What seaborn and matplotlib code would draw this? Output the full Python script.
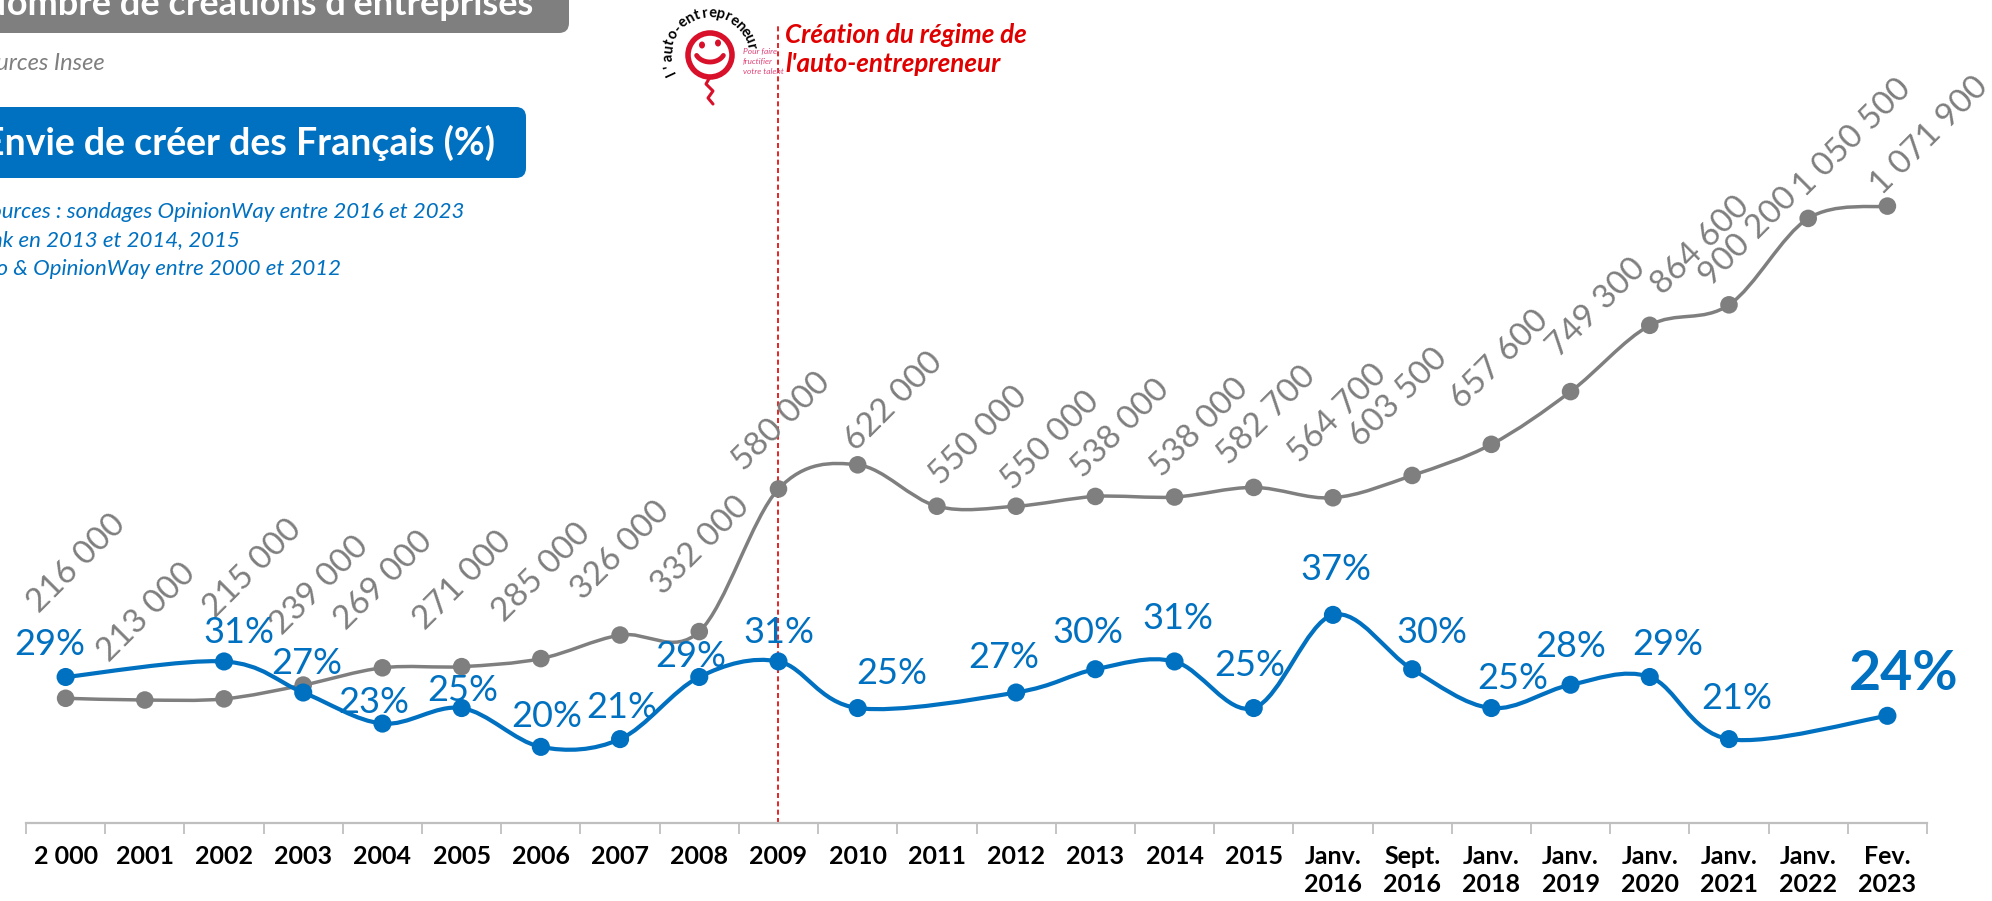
import numpy as np
import pandas as pd
import matplotlib
matplotlib.use("Agg")
import matplotlib.pyplot as plt
from matplotlib.path import Path
from matplotlib.patches import PathPatch, FancyBboxPatch, Circle, Ellipse
import seaborn as sns

# ---- data ----
periods = ["2 000", "2001", "2002", "2003", "2004", "2005", "2006", "2007", "2008",
           "2009", "2010", "2011", "2012", "2013", "2014", "2015",
           "Janv.\n2016", "Sept.\n2016", "Janv.\n2018", "Janv.\n2019", "Janv.\n2020",
           "Janv.\n2021", "Janv.\n2022", "Fev.\n2023"]

# company creations (Insee); 2013/2014 points sit higher than their printed labels
creations = [216000, 213000, 215000, 239000, 269000, 271000, 285000, 326000, 332000,
             580000, 622000, 550000, 550000, 567000, 566000, 582700,
             564700, 603500, 657600, 749300, 864600, 900200, 1050500, 1071900]
creations_labels = ["216 000", "213 000", "215 000", "239 000", "269 000", "271 000",
                    "285 000", "326 000", "332 000", "580 000", "622 000", "550 000",
                    "550 000", "538 000", "538 000", "582 700", "564 700", "603 500",
                    "657 600", "749 300", "864 600", "900 200", "1 050 500", "1 071 900"]

# "envie de créer" (%), no survey for 2001, 2011, Janv. 2022
envie = [29, np.nan, 31, 27, 23, 25, 20, 21, 29, 31, 25, np.nan, 27, 30, 31, 25,
         37, 30, 25, 28, 29, 21, np.nan, 24]

# label offsets in pixels (dx, up)
gray_off = [(11, 135), (2, 87), (29, 130), (16, 99), (1, 87), (1, 86), (1, 86), (1, 84),
            (1, 86), (3, 67), (36, 63), (42, 71), (34, 66), (25, 68), (25, 69), (13, 72),
            (5, 84), (-14, 78), (8, 85), (26, 84), (51, 80), (20, 68), (44, 81), (42, 70)]
blue_off = [(-16, 32), (0, 0), (15, 29), (4, 29), (-9, 21), (1, 18), (6, 30), (2, 32),
            (-9, 20), (0, 29), (34, 35), (0, 0), (-12, 35), (-7, 37), (3, 43), (-4, 43),
            (3, 45), (20, 37), (21, 30), (0, 38), (18, 32), (8, 41), (0, 0), (16, 42)]

GRAY = "#7F7F7F"
BLUE = "#0070C0"
RED = "#E00000"

sns.set_theme(style="white")
plt.rcParams["font.family"] = ["Lato", "DejaVu Sans"]

df = pd.DataFrame({"pos": np.arange(len(periods)), "creations": creations, "envie": envie})


def smooth_path(xs, ys):
    # Excel-like smoothed line (Catmull-Rom as cubic bezier)
    n = len(xs)
    verts = [(xs[0], ys[0])]
    codes = [Path.MOVETO]
    for i in range(n - 1):
        i0, i3 = max(i - 1, 0), min(i + 2, n - 1)
        c1 = (xs[i] + (xs[i + 1] - xs[i0]) / 6, ys[i] + (ys[i + 1] - ys[i0]) / 6)
        c2 = (xs[i + 1] - (xs[i3] - xs[i]) / 6, ys[i + 1] - (ys[i3] - ys[i]) / 6)
        verts += [c1, c2, (xs[i + 1], ys[i + 1])]
        codes += [Path.CURVE4] * 3
    return Path(verts, codes)


fig = plt.figure(figsize=(19.92, 9.01), dpi=100)
ax = fig.add_axes([26 / 1992, 1 - 822.5 / 901, 1901 / 1992, 822.5 / 901])
ax2 = ax.twinx()
ax.patch.set_alpha(0)
ax2.patch.set_alpha(0)

# creations (gray, left scale)
ax.add_patch(PathPatch(smooth_path(df["pos"].values, df["creations"].values),
                       facecolor="none", edgecolor=GRAY, lw=2.5, capstyle="round"))
sns.scatterplot(data=df, x="pos", y="creations", ax=ax, color=GRAY, s=160,
                edgecolor="none", zorder=3, legend=False)
for i, row in df.iterrows():
    dx, up = gray_off[i]
    ax.annotate(creations_labels[i], (row["pos"], row["creations"]), xytext=(dx, up),
                textcoords="offset pixels", rotation=45, rotation_mode="anchor",
                ha="center", va="center", fontsize=24, color=GRAY)

# envie (blue, right scale)
valid = df.dropna(subset=["envie"])
ax2.add_patch(PathPatch(smooth_path(valid["pos"].values, valid["envie"].values),
                        facecolor="none", edgecolor=BLUE, lw=3, capstyle="round"))
sns.scatterplot(data=valid, x="pos", y="envie", ax=ax2, color=BLUE, s=170,
                edgecolor="none", zorder=3, legend=False)
last = valid.index[-1]
for i, row in valid.iterrows():
    dx, up = blue_off[i]
    big = i == last
    ax2.annotate(f"{int(row['envie'])}%", (row["pos"], row["envie"]), xytext=(dx, up),
                 textcoords="offset pixels", ha="center", va="center",
                 fontsize=40 if big else 26, fontweight="bold" if big else "normal",
                 color=BLUE)

ax.set_xlim(-0.5, len(periods) - 0.5)
ax.set_ylim(0, 1430300)
ax2.set_ylim(10.26, 116.19)

ax.set_xticks(df["pos"])
ax.set_xticklabels(periods, fontsize=18, fontweight="bold", color="black", linespacing=1.27)
ax.set_xticks(np.arange(-0.5, len(periods), 1), minor=True)
ax.tick_params(axis="x", which="major", length=0, pad=16)
ax.tick_params(axis="x", which="minor", length=8, width=1.3, color="#BFBFBF",
               direction="out", bottom=True)
ax.set_yticks([])
ax2.set_yticks([])
ax.set_xlabel("")
ax.set_ylabel("")
ax2.set_ylabel("")
for a in (ax, ax2):
    for s in ("top", "left", "right", "bottom"):
        a.spines[s].set_visible(False)
ax.spines["bottom"].set_visible(True)
ax.spines["bottom"].set_color("#BFBFBF")
ax.spines["bottom"].set_linewidth(1.6)

# auto-entrepreneur regime marker
ax.axvline(9, ymin=0, ymax=(822.5 - 23) / 822.5, color=RED, lw=1.2, ls=(0, (3, 2)))

# ---- overlay in pixel coordinates for titles and logo ----
ov = fig.add_axes([0, 0, 1, 1])
ov.set_xlim(0, 1992)
ov.set_ylim(901, 0)
ov.axis("off")
ov.patch.set_alpha(0)

ov.add_patch(FancyBboxPatch((-30, -60), 599, 93, boxstyle="round,pad=0,rounding_size=10",
                            fc=GRAY, ec="none"))
ov.text(533, 15, "Nombre de créations d'entreprises", ha="right", va="baseline",
        fontsize=26, fontweight="bold", color="white")
ov.text(105, 63, "Sources Insee", ha="right", va="center", fontsize=17,
        fontstyle="italic", color=GRAY)

ov.add_patch(FancyBboxPatch((-30, 107), 556, 71, boxstyle="round,pad=0,rounding_size=10",
                            fc=BLUE, ec="none"))
ov.text(495, 143, "Envie de créer des Français (%)", ha="right", va="center",
        fontsize=27, fontweight="bold", color="white")
ov.text(464, 212, "Sources : sondages OpinionWay entre 2016 et 2023", ha="right",
        va="center", fontsize=16, fontstyle="italic", color=BLUE)
ov.text(240, 240, "Think en 2013 et 2014, 2015", ha="right", va="center", fontsize=16,
        fontstyle="italic", color=BLUE)
ov.text(341, 269, "Ipso & OpinionWay entre 2000 et 2012", ha="right", va="center",
        fontsize=16, fontstyle="italic", color=BLUE)

ov.text(785, 35, "Création du régime de", ha="left", va="center", fontsize=18.7,
        fontweight="bold", fontstyle="italic", color=RED)
ov.text(785, 64, "l'auto-entrepreneur", ha="left", va="center", fontsize=18.7,
        fontweight="bold", fontstyle="italic", color=RED)

# logo sketch
LOGO = "#D8102A"
cx, cy = 710, 55
ov.add_patch(Circle((cx, cy), 22, fc="white", ec=LOGO, lw=4))
ov.add_patch(Ellipse((702, 45), 6, 7, fc=LOGO, ec="none"))
ov.add_patch(Ellipse((718, 43), 6, 7, fc=LOGO, ec="none"))
t = np.linspace(0.15 * np.pi, 0.85 * np.pi, 30)
ov.plot(cx + 15 * np.cos(t), 50 + 12 * np.sin(t), color=LOGO, lw=3.5, solid_capstyle="round")
ov.plot([710, 706, 713, 708, 713], [77, 84, 91, 98, 104], color=LOGO, lw=2.2)
word = "l'auto-entrepreneur"
angs = np.linspace(205, 12, len(word))
for ch, a in zip(word, angs):
    r = np.deg2rad(a)
    ov.text(cx + 38 * np.cos(r), cy - 38 * np.sin(r), ch, rotation=a - 90,
            rotation_mode="anchor", ha="center", va="baseline", fontsize=10.5,
            fontweight="bold", color="black")
for k, w in enumerate(["Pour faire", "fructifier", "votre talent"]):
    ov.text(743, 51 + 10 * k, w, ha="left", va="center", fontsize=6,
            fontstyle="italic", color="#E0457B")

fig.savefig("out.png", dpi=100)
